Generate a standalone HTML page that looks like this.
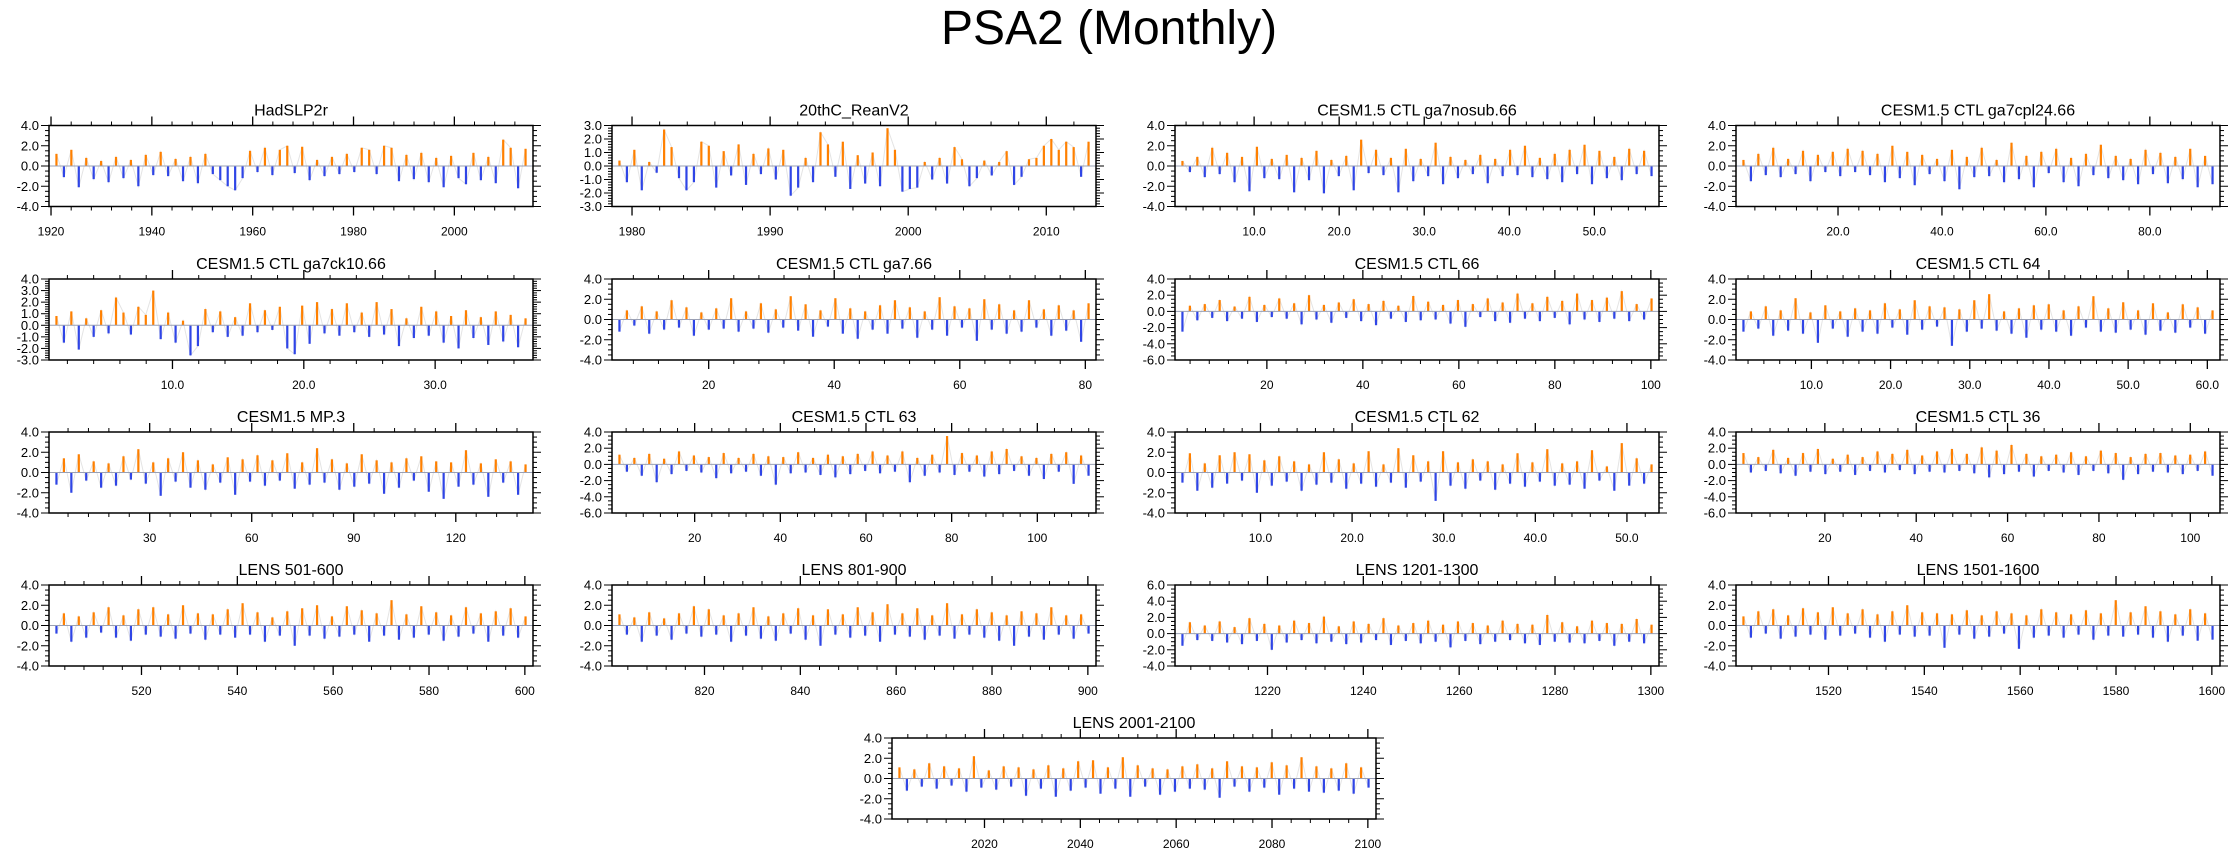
<!DOCTYPE html>
<html><head><meta charset="utf-8"><title>PSA2 (Monthly)</title>
<style>
html,body{margin:0;padding:0;background:#fff;}
svg{display:block;font-family:"Liberation Sans",Arial,sans-serif;}
</style></head>
<body>
<svg id="chart" width="2238" height="856" viewBox="0 0 2238 856" xmlns="http://www.w3.org/2000/svg">
<rect width="2238" height="856" fill="#fff"/>
<text x="1109" y="44" font-size="48" text-anchor="middle" fill="#000">PSA2 (Monthly)</text>
</svg>
<script>
const titles = ["HadSLP2r","20thC_ReanV2","CESM1.5 CTL ga7nosub.66","CESM1.5 CTL ga7cpl24.66",
"CESM1.5 CTL ga7ck10.66","CESM1.5 CTL ga7.66","CESM1.5 CTL 66","CESM1.5 CTL 64",
"CESM1.5 MP.3","CESM1.5 CTL 63","CESM1.5 CTL 62","CESM1.5 CTL 36",
"LENS 501-600","LENS 801-900","LENS 1201-1300","LENS 1501-1600","LENS 2001-2100"];
const xMin = [1919.6,1978.55,0.7,0.37, 0.6,4.6,0.86,0.48, 0.4,0.7,0.67,0.55, 500.7,800.7,1200.7,1500.7,2000.7];
const xMax = [2015.6,2013.6,57.6,93.5, 37.45,81.7,101.7,61.6, 142.7,113.7,53.5,106.5, 601.7,901.7,1301.7,1601.7,2101.7];
const xTicks = [[1920,1940,1960,1980,2000],[1980,1990,2000,2010],[10,20,30,40,50],[20,40,60,80],
[10,20,30],[20,40,60,80],[20,40,60,80,100],[10,20,30,40,50,60],
[30,60,90,120],[20,40,60,80,100],[10,20,30,40,50],[20,40,60,80,100],
[520,540,560,580,600],[820,840,860,880,900],[1220,1240,1260,1280,1300],[1520,1540,1560,1580,1600],[2020,2040,2060,2080,2100]];
const xDecimals = [0,0,1,1, 1,0,0,1, 0,0,1,0, 0,0,0,0,0];
const yMin = [-4,-3,-4,-4, -3,-4,-6,-4, -4,-6,-4,-6, -4,-4,-4,-4,-4];
const yMax = [4,3,4,4, 4,4,4,4, 4,4,4,4, 4,4,6,4,4];
const yStep = [2,1,2,2, 1,2,2,2, 2,2,2,2, 2,2,2,2,2];

const v0 = [1.2,-1.1,1.6,-2.1,0.8,-1.3,0.5,-1.6,0.9,-1.2,0.6,-2.0,1.1,-0.9,1.4,-1.0,0.7,-1.5,0.9,-1.7,1.2,-0.8,-1.4,-2.0,-2.4,-1.2,1.5,-0.6,1.8,-0.9,1.6,2.0,-0.7,1.9,-1.4,0.6,-1.0,0.9,-0.8,1.2,-0.6,1.8,1.6,-0.8,2.0,1.8,-1.5,1.1,-1.3,1.3,-1.6,0.8,-2.1,1.0,-1.2,-1.8,1.3,-1.4,0.9,-1.7,2.6,1.8,-2.2,1.7];
const v1 = [0.4,-1.2,1.2,-1.8,0.3,-0.5,2.7,1.4,-0.9,-1.8,-1.2,1.8,1.5,-1.6,1.1,-0.7,1.6,-1.4,0.9,-0.6,1.3,-1.0,1.2,-2.2,-1.6,0.6,-1.2,2.5,1.6,-0.8,1.8,-1.7,0.8,-1.3,1.0,-1.5,2.8,1.2,-1.9,-1.7,-1.6,0.3,-1.0,0.6,-1.3,1.4,0.5,-1.5,-0.9,0.4,-0.7,0.3,1.1,-1.4,-0.8,0.5,0.6,1.5,2.0,1.2,1.8,1.4,-0.8,1.8];
const v2 = [0.5,-0.6,0.9,-1.1,1.8,-0.8,1.3,-1.6,0.9,-2.5,1.9,-1.2,0.7,-1.3,1.1,-2.6,0.8,-1.4,1.5,-2.7,0.6,-1.0,1.0,-2.4,2.6,-0.7,1.6,-0.9,0.8,-2.6,1.7,-1.5,0.7,-1.0,2.3,-1.8,0.9,-1.2,0.6,-0.8,1.1,-1.7,0.7,-1.0,1.6,-0.9,2.0,-1.1,0.8,-1.3,1.2,-1.6,1.6,-0.8,2.1,-1.8,1.5,-1.2,0.9,-1.4,1.7,-0.8,1.5,-1.0];
const v3 = [0.6,-1.5,1.2,-0.9,1.8,-1.1,0.7,-0.8,1.5,-1.5,1.1,-0.6,1.4,-1.0,1.7,-0.6,1.5,-0.9,1.2,-1.6,2.0,-1.2,1.4,-1.9,1.1,-0.8,0.7,-1.5,1.6,-2.3,0.9,-1.1,1.8,-1.0,0.6,-1.6,2.3,-1.3,1.0,-2.1,1.4,-0.7,1.7,-1.6,0.8,-2.0,1.2,-0.9,2.1,-1.2,1.0,-1.4,0.7,-1.8,1.6,-0.8,1.3,-1.7,0.9,-1.3,1.7,-2.1,1.0,-1.8];
const v4 = [0.8,-1.5,1.2,-2.1,0.6,-1.0,1.3,-0.7,2.4,1.1,-0.8,1.6,0.9,3.0,-1.2,1.1,-1.5,0.4,-2.6,-1.8,1.4,-0.6,1.2,-1.0,0.7,-0.9,1.9,-0.6,1.3,-0.4,1.6,-2.0,-2.5,1.7,-1.6,2.0,-0.7,1.4,-0.9,1.9,-0.6,1.1,-1.0,2.0,-0.8,1.4,-1.8,0.6,-1.1,1.6,-0.9,1.2,-1.5,0.8,-2.0,1.3,-1.1,0.7,-1.7,1.2,-1.4,0.9,-1.9,0.6];
const v5 = [-1.2,0.9,-0.6,1.3,-1.4,0.8,-1.0,1.9,-0.8,1.2,-1.6,0.7,-1.0,1.1,-0.9,2.1,-1.2,0.8,-0.9,1.6,-1.3,1.0,-0.8,2.3,-1.1,1.5,-1.7,0.9,-0.7,2.1,-1.4,1.1,-1.9,0.8,-1.0,1.4,-1.4,1.9,-0.9,1.2,-1.8,0.8,-1.0,2.2,-1.6,1.3,-0.8,1.1,-2.1,2.0,-1.0,1.5,-1.4,0.9,-1.2,1.9,-0.8,1.0,-1.6,1.4,-1.1,0.9,-2.2,1.6];
const v6 = [-2.5,0.7,-1.1,0.9,-0.8,1.4,-1.2,0.6,-0.9,1.8,-1.3,0.8,-0.7,1.6,-0.9,1.0,-1.6,2.0,-1.0,0.8,-1.4,1.1,-0.8,1.5,-1.2,0.9,-1.7,1.3,-0.9,0.7,-1.3,1.9,-1.1,1.2,-1.0,0.8,-1.5,1.4,-1.9,0.9,-0.7,1.6,-1.2,1.1,-1.4,2.2,-0.9,1.0,-1.2,1.8,-0.8,1.3,-1.6,2.2,-1.0,1.4,-1.3,1.7,-0.9,2.5,-1.2,0.9,-1.0,1.6];
const v7 = [-1.2,0.8,-0.9,1.3,-1.6,0.9,-1.1,2.1,-1.4,0.7,-2.3,1.4,-0.9,0.8,-1.7,1.1,-1.2,0.9,-1.4,1.6,-0.8,1.0,-1.5,1.9,-1.0,1.3,-0.7,1.2,-2.6,1.0,-1.2,1.9,-0.9,2.5,-1.1,0.8,-1.4,1.1,-1.8,1.4,-1.0,1.5,-1.2,0.9,-1.6,1.3,-0.8,2.3,-1.2,1.1,-1.3,1.7,-1.0,0.9,-1.5,1.6,-1.1,0.7,-1.3,1.5,-0.8,1.2,-1.4,0.9];
const v8 = [-1.2,1.4,-2.0,1.8,-0.8,1.1,-1.5,0.9,-1.3,1.6,-0.7,2.3,-1.1,1.0,-2.3,1.4,-0.9,2.0,-1.5,1.2,-1.7,0.8,-1.0,1.5,-2.2,1.3,-0.9,1.7,-1.3,1.2,-0.8,1.9,-1.6,1.0,-1.2,2.4,-1.0,1.3,-1.7,0.9,-1.4,1.8,-1.1,1.2,-2.1,1.0,-1.5,1.4,-0.8,1.6,-1.9,1.1,-2.6,1.0,-1.4,2.2,-1.2,0.9,-2.4,1.3,-1.0,1.1,-2.2,0.8];
const v9 = [1.2,-0.9,0.8,-1.4,1.3,-2.2,0.7,-1.2,1.6,-0.8,1.1,-1.0,0.9,-1.7,1.4,-1.1,0.8,-0.9,1.3,-1.4,1.0,-2.5,0.9,-1.1,1.5,-1.0,0.8,-1.3,1.2,-1.6,1.0,-1.2,1.3,-0.8,1.6,-1.1,1.1,-0.9,1.6,-2.2,0.8,-1.4,1.2,-1.0,3.5,-1.3,1.4,-0.9,1.1,-1.5,1.6,-1.2,1.9,-0.8,1.0,-1.4,0.8,-1.8,1.3,-0.9,1.5,-2.4,1.1,-1.4];
const v10 = [-1.0,1.9,-1.8,0.9,-1.5,1.7,-1.1,2.0,-0.8,1.8,-2.0,1.2,-1.3,1.6,-0.9,1.1,-1.8,0.8,-1.2,2.0,-1.0,1.3,-1.6,0.9,-1.1,2.1,-1.4,0.8,-1.0,2.4,-1.5,1.7,-0.9,1.1,-2.8,2.1,-1.3,1.0,-1.6,1.3,-0.8,1.1,-1.7,0.8,-1.1,1.9,-1.4,1.0,-0.9,2.3,-1.3,0.9,-1.2,1.1,-1.6,2.2,-0.8,0.6,-1.8,2.9,-1.3,1.4,-1.1,0.8];
const v11 = [1.4,-1.0,0.9,-0.8,1.8,-1.1,0.8,-1.4,1.4,-0.9,1.9,-1.2,0.7,-0.9,1.2,-1.3,0.9,-0.8,1.6,-1.0,1.3,-0.7,1.8,-1.2,1.1,-0.9,1.6,-1.0,1.9,-0.8,1.3,-1.1,2.1,-1.6,1.7,-1.2,2.4,-0.9,1.3,-1.5,1.0,-0.8,1.2,-1.0,1.5,-1.3,1.0,-0.8,1.7,-1.1,1.4,-1.9,0.9,-1.2,1.3,-0.9,1.4,-1.0,1.1,-1.2,1.2,-0.8,1.6,-1.4];
const v12 = [-0.8,1.2,-1.6,0.9,-1.2,1.3,-0.7,1.8,-1.2,1.0,-1.5,1.6,-0.9,1.8,-1.1,1.1,-1.3,2.0,-0.8,1.2,-1.4,1.1,-0.9,1.6,-1.2,2.2,-0.9,1.3,-1.6,0.8,-1.0,1.4,-2.0,1.7,-1.0,2.0,-1.3,0.9,-1.1,1.9,-0.9,1.5,-1.6,1.2,-1.0,2.5,-1.4,1.1,-1.2,1.9,-0.9,1.3,-1.5,1.0,-1.1,1.8,-0.8,1.2,-1.6,1.4,-1.0,1.7,-1.2,0.9];
const v13 = [1.1,-0.9,0.8,-1.6,1.3,-1.0,0.7,-1.4,1.2,-0.8,1.9,-1.1,1.6,-0.9,1.0,-1.6,1.2,-1.0,1.8,-1.3,0.9,-1.5,1.2,-0.8,1.7,-1.4,1.0,-2.0,1.6,-0.9,1.1,-1.2,1.8,-1.0,1.3,-1.6,2.1,-0.9,1.2,-1.1,1.7,-1.4,1.0,-1.0,2.2,-1.3,1.1,-0.9,1.6,-1.2,1.3,-1.5,1.0,-2.0,1.4,-1.1,1.2,-1.4,1.8,-0.9,1.0,-1.3,1.1,-0.8];
const v14 = [-1.5,1.4,-0.8,1.0,-0.9,1.5,-1.1,0.8,-1.3,1.9,-0.9,1.2,-2.0,1.0,-1.1,1.6,-0.8,1.3,-1.2,2.1,-1.0,0.9,-1.3,1.5,-1.1,1.2,-0.8,1.9,-1.4,1.0,-0.9,1.3,-1.2,1.6,-1.0,1.1,-1.7,1.5,-0.9,1.3,-1.3,1.0,-1.0,1.6,-0.8,1.2,-1.2,1.1,-1.4,2.3,-1.0,1.4,-1.1,0.9,-1.2,1.6,-0.9,1.3,-1.5,1.2,-1.0,1.8,-1.2,1.1];
const v15 = [0.9,-1.2,1.4,-0.8,1.6,-1.3,1.0,-1.1,1.7,-0.9,1.3,-1.4,1.8,-1.0,1.2,-0.8,1.6,-1.2,1.1,-1.6,1.4,-0.9,2.0,-1.1,1.3,-1.0,1.2,-2.2,1.1,-0.9,1.5,-1.3,1.0,-1.1,1.4,-0.8,1.2,-2.3,1.0,-1.2,1.6,-1.0,1.3,-1.2,1.1,-0.9,1.5,-1.4,1.2,-1.0,2.5,-1.1,1.3,-0.9,1.9,-1.2,1.4,-1.6,1.1,-1.0,1.6,-1.5,1.2,-1.4];
const v16 = [1.1,-1.2,0.9,-0.8,1.5,-1.0,1.2,-0.7,1.0,-1.3,2.2,-0.9,0.8,-1.1,1.2,-0.8,1.1,-1.7,0.9,-1.0,1.3,-1.8,1.0,-1.2,1.7,-0.9,1.8,-1.5,1.1,-1.0,2.1,-1.8,1.3,-0.8,1.0,-1.6,0.9,-1.3,1.2,-1.0,1.4,-1.1,1.0,-1.9,1.7,-0.8,1.2,-1.3,1.1,-0.9,1.6,-1.6,1.3,-1.0,2.1,-1.3,1.2,-1.4,1.0,-1.2,1.5,-1.5,1.1,-0.9];
const seriesValues = [v0,v1,v2,v3,v4,v5,v6,v7,v8,v9,v10,v11,v12,v13,v14,v15,v16];

const NS = "http://www.w3.org/2000/svg";
const svg = document.getElementById("chart");
const colLeft = [49,612,1175,1736];
const rowTop = [125.5,279,432,585,738];
const PW = 484, PH = 81;
function mk(tag, attrs, parent){const e=document.createElementNS(NS,tag);for(const k in attrs)e.setAttribute(k,attrs[k]);(parent||svg).appendChild(e);return e;}

for(let p=0;p<17;p++){
  const left = p<16 ? colLeft[p%4] : 892;
  const top = rowTop[Math.floor(p/4)];
  const g = mk("g",{});
  
  
  const xs = x => left + (x - xMin[p])/(xMax[p]-xMin[p])*PW;
  const ys = y => top + (yMax[p]-y)/(yMax[p]-yMin[p])*PH;
  const t = mk("text",{x:left+PW/2,y:top-10,"font-size":16,"text-anchor":"middle",fill:"#000"},g);
  t.textContent = titles[p];
  
  
  const vals = seriesValues[p];
  const n = vals.length;
  const step = (xMax[p]-xMin[p])/(n+1);
  const bw = 2.2;
  const y0 = ys(0);
  // faint gray raw line
  let pts = [];
  for(let i=0;i<n;i++){ pts.push(xs(xMin[p]+step*(i+1)).toFixed(1)+","+ys(vals[i]).toFixed(1)); }
  const gl = mk("polyline",{points:pts.join(" "),fill:"none",stroke:"#e4e4e4","stroke-width":1},g);
  
  
  for(let i=0;i<n;i++){
    const xv = xMin[p] + step*(i+1);
    const yv = ys(vals[i]);
    const r = mk("rect",{x:xs(xv)-bw/2,y:Math.min(y0,yv),width:bw,height:Math.abs(yv-y0),fill:vals[i]>=0?"#ff8000":"#2f45e6"},g);
    
    
  }
  const zl = mk("line",{x1:left,x2:left+PW,y1:y0,y2:y0,stroke:"#9aa0b4","stroke-width":1},g);
  
  
  const fr = mk("rect",{x:left,y:top,width:PW,height:PH,fill:"none",stroke:"#000","stroke-width":1.5},g);
  
  
  const ysN = yStep[p], minorY = ysN===1?0.2:0.5;
  for(let v=yMin[p]; v<=yMax[p]+1e-9; v+=minorY){
    const major = Math.abs(v/ysN - Math.round(v/ysN))<1e-6;
    const L = major?8:4;
    mk("line",{x1:left-L,x2:left,y1:ys(v),y2:ys(v),stroke:"#000","stroke-width":1},g);
    mk("line",{x1:left+PW,x2:left+PW+L,y1:ys(v),y2:ys(v),stroke:"#000","stroke-width":1},g);
    if(major){
      const yl = mk("text",{x:left-10,y:ys(v)+4.5,"font-size":13,"text-anchor":"end",fill:"#000"},g);
      yl.textContent = v.toFixed(1);
      
      
    }
  }
  const tk = xTicks[p];
  const mstep = tk[1]-tk[0];
  const minorX = mstep/5;
  for(let v=tk[0]-mstep; v<=tk[tk.length-1]+mstep+1e-9; v+=minorX){
    if(v<xMin[p]-1e-9||v>xMax[p]+1e-9) continue;
    const major = Math.abs(v/mstep - Math.round(v/mstep))<1e-6;
    const L = major?9:4;
    mk("line",{x1:xs(v),x2:xs(v),y1:top+PH,y2:top+PH+L,stroke:"#000","stroke-width":major?1.3:1},g);
    mk("line",{x1:xs(v),x2:xs(v),y1:top-L,y2:top,stroke:"#000","stroke-width":major?1.3:1},g);
  }
  for(const v of tk){
    const xl = mk("text",{x:xs(v),y:top+PH+29,"font-size":12,"text-anchor":"middle",fill:"#000"},g);
    xl.textContent = v.toFixed(xDecimals[p]);
    
    
  }
}
</script>
</body></html>
